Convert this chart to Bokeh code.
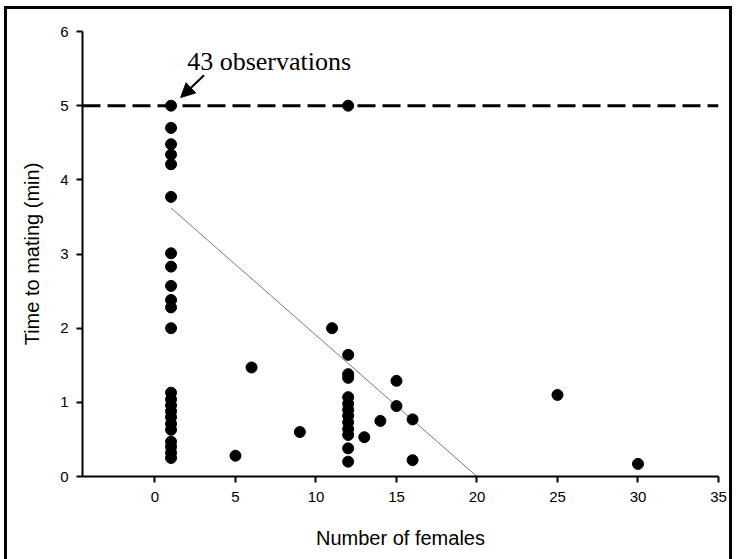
from bokeh.plotting import figure
from bokeh.models import ColumnDataSource, FixedTicker, Label, Arrow, NormalHead, Span
from bokeh.embed import file_html
from bokeh.resources import INLINE

# Number of females present vs. time until mating (min)
females_1 = [1] * 23
time_1 = [5.0, 4.70, 4.48, 4.34, 4.21, 3.77, 3.01, 2.83, 2.57, 2.38, 2.28, 2.00,
          1.13, 1.04, 0.96, 0.88, 0.80, 0.71, 0.63, 0.47, 0.40, 0.32, 0.25]

females_12 = [12] * 13
time_12 = [5.0, 1.64, 1.38, 1.33, 1.07, 0.98, 0.90, 0.82, 0.73, 0.64, 0.56, 0.38, 0.20]

females_other = [5, 6, 9, 11, 13, 14, 15, 15, 16, 16, 25, 30]
time_other = [0.28, 1.47, 0.60, 2.00, 0.53, 0.75, 1.29, 0.95, 0.77, 0.22, 1.10, 0.17]

# Fitted regression line
fit_x = [1, 20]
fit_y = [3.62, 0.0]

# Trial cut-off time
cutoff_min = 5
n_at_cutoff = 43

x_ticks = [0, 5, 10, 15, 20, 25, 30, 35]
y_ticks = [0, 1, 2, 3, 4, 5, 6]

xs = females_1 + females_12 + females_other
ys = time_1 + time_12 + time_other
src = ColumnDataSource(dict(x=xs, y=ys))

p = figure(width=728, height=557, x_range=(-4.5, 35), y_range=(0, 6),
           output_backend="svg", toolbar_location=None,
           min_border_left=75, min_border_right=17,
           min_border_top=22, min_border_bottom=90)
# Black frame around the whole figure
p.styles = {"border": "3px solid black", "margin-left": "4px", "margin-top": "6px"}
p.outline_line_color = None
p.background_fill_color = "white"
p.border_fill_color = "white"
p.xgrid.visible = False
p.ygrid.visible = False

for ax in (p.xaxis[0], p.yaxis[0]):
    ax.axis_line_width = 2
    ax.axis_line_color = "black"
    ax.major_tick_line_width = 2
    ax.major_tick_in = 0
    ax.major_tick_out = 6
    ax.minor_tick_line_color = None
    ax.major_label_text_font = "Liberation Sans"
    ax.major_label_text_font_size = "15px"
    ax.major_label_text_color = "black"
    ax.axis_label_text_font = "Liberation Sans"
    ax.axis_label_text_font_style = "normal"
    ax.axis_label_text_color = "black"

p.xaxis.ticker = FixedTicker(ticks=x_ticks)
p.yaxis.ticker = FixedTicker(ticks=y_ticks)
p.xaxis.axis_label = "Number of females"
p.yaxis.axis_label = "Time to mating (min)"
p.xaxis.axis_label_text_font_size = "20px"
p.yaxis.axis_label_text_font_size = "20px"
p.xaxis.major_label_standoff = 9
p.yaxis.major_label_standoff = 8
p.xaxis.axis_label_standoff = 22
p.yaxis.axis_label_standoff = 14

# Cut-off line
p.add_layout(Span(location=cutoff_min, dimension="width", line_color="black",
                  line_width=3, line_dash="18 7"))

# Regression line
p.line(fit_x, fit_y, line_color="#777777", line_width=1)

# Observations
p.scatter("x", "y", source=src, size=11, fill_color="black", line_color="black")

# Annotation for the stacked points at the cut-off
p.add_layout(Label(x=2.0, y=5.6, text=f"{n_at_cutoff} observations",
                   text_font="Liberation Serif", text_font_size="26px",
                   text_color="black", text_baseline="alphabetic"))
p.add_layout(Arrow(end=NormalHead(size=14, fill_color="black", line_color="black"),
                   x_start=3.05, y_start=5.41, x_end=1.6, y_end=5.11,
                   line_color="black", line_width=2))

open("out.html", "w").write(file_html(p, INLINE))
